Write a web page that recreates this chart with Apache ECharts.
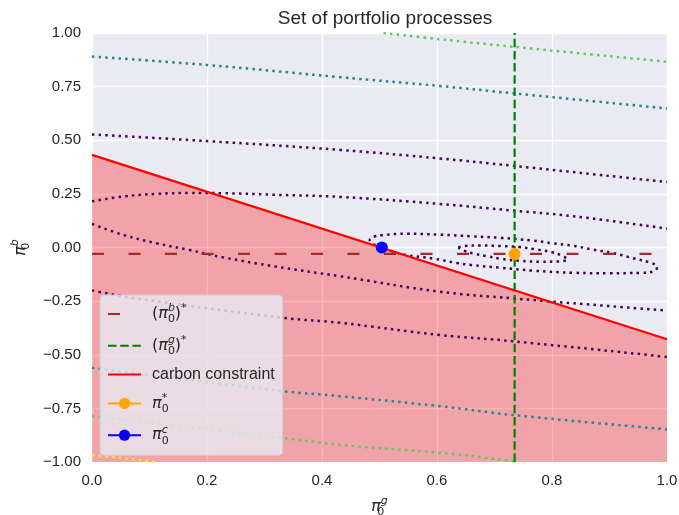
<!DOCTYPE html>
<html>
<head>
<meta charset="utf-8">
<title>Set of portfolio processes</title>
<script src="https://cdn.jsdelivr.net/npm/echarts@6/dist/echarts.min.js"></script>
<style>
    html, body { margin: 0; padding: 0; background: #fff; }
    #chart { width: 679px; height: 515px; }
</style>
</head>
<body>
<div id="chart"></div>
<script>
    // tick labels of both axes
    const xTicks = [0.0, 0.2, 0.4, 0.6, 0.8, 1.0];
    const yTicks = [-1.0, -0.75, -0.5, -0.25, 0.0, 0.25, 0.5, 0.75, 1.0];

    // optimal values and the carbon constraint
    const pibStar = -0.03;
    const pigStar = 0.735;
    const optimalPoint = [0.735, -0.03];
    const constrainedPoint = [0.504, 0.0];
    const constraintLine = [[0, 0.432], [1, -0.428]];

    // level curves of the objective
    const contourA = [[0.637, 0.0], [0.648, 0.007], [0.675, 0.009], [0.71, 0.007], [0.744, 0.002], [0.77, -0.008],
        [0.80, -0.022], [0.815, -0.036], [0.827, -0.055], [0.812, -0.065], [0.78, -0.066], [0.744, -0.062],
        [0.71, -0.052], [0.686, -0.04], [0.663, -0.028], [0.646, -0.014], [0.637, 0.0]];
    const contourB = [[0.504, 0.0], [0.49, 0.015], [0.483, 0.035], [0.49, 0.05], [0.506, 0.058], [0.547, 0.064],
        [0.605, 0.06], [0.66, 0.052], [0.71, 0.045], [0.767, 0.032], [0.80, 0.02], [0.837, 0.008], [0.871, -0.01],
        [0.906, -0.026], [0.941, -0.05], [0.97, -0.07], [0.983, -0.09], [0.978, -0.11], [0.955, -0.118],
        [0.9, -0.12], [0.84, -0.118], [0.767, -0.108], [0.71, -0.094], [0.66, -0.082], [0.634, -0.072],
        [0.594, -0.052], [0.547, -0.035], [0.522, -0.018], [0.504, 0.0]];
    const contourCUpper = [[0, 0.215], [0.055, 0.238], [0.112, 0.25], [0.17, 0.254], [0.228, 0.253], [0.315, 0.246],
        [0.431, 0.236], [0.605, 0.203], [0.732, 0.172], [0.837, 0.146], [1.0, 0.088]];
    const contourCLower = [[0, 0.11], [0.055, 0.058], [0.112, 0.02], [0.17, -0.012], [0.228, -0.046], [0.315, -0.087],
        [0.431, -0.134], [0.605, -0.206], [0.732, -0.237], [0.837, -0.26], [1.0, -0.294]];
    const contourDUpper = [[0, 0.527], [0.2, 0.496], [0.431, 0.455], [0.605, 0.415], [0.732, 0.381], [1.0, 0.305]];
    const contourDLower = [[0, -0.2], [0.071, -0.235], [0.333, -0.328], [0.431, -0.351], [0.605, -0.408],
        [0.732, -0.437], [1.0, -0.51]];
    const contourEUpper = [[0, 0.89], [0.2, 0.851], [0.431, 0.794], [0.605, 0.753], [0.732, 0.719], [1.0, 0.648]];
    const contourELower = [[0, -0.561], [0.333, -0.67], [0.431, -0.693], [0.605, -0.74], [0.732, -0.781],
        [1.0, -0.848]];
    const contourFUpper = [[0.507, 1.0], [0.605, 0.971], [0.732, 0.936], [1.0, 0.866]];
    const contourFLower = [[0, -0.786], [0.333, -0.888], [0.431, -0.92], [0.605, -0.957], [0.715, -0.99],
        [0.74, -1.0]];
    const contourG = [[0, -0.968], [0.02, -0.973], [0.086, -0.992], [0.11, -1.0]];

    const mathRich = {
        m: { fontFamily: 'DejaVu Sans', fontStyle: 'italic', fontSize: 16, lineHeight: 22, color: '#262626' },
        n: { fontFamily: 'DejaVu Sans', fontSize: 16, lineHeight: 22, color: '#262626' },
        sb: { fontFamily: 'DejaVu Sans', fontSize: 11, lineHeight: 12, verticalAlign: 'bottom', width: 0, color: '#262626' },
        sp: { fontFamily: 'DejaVu Sans', fontStyle: 'italic', fontSize: 11, lineHeight: 12, verticalAlign: 'top', color: '#262626' },
        t: { fontFamily: 'Liberation Sans', fontSize: 16, lineHeight: 22, color: '#262626' }
    };

    const legendLabels = {
        'pib': '{n|(}{m|π}{sb|0}{sp|b}{n|)}{sp|*}',
        'pig': '{n|(}{m|π}{sb|0}{sp|g}{n|)}{sp|*}',
        'carbon constraint': '{t|carbon constraint}',
        'pistar': '{m|π}{sb|0}{sp|*}',
        'pic': '{m|π}{sb|0}{sp|c}'
    };

    // plain lines get no marker in the legend
    const lineOnly = { itemStyle: { opacity: 0 } };

    function contour(data, color) {
        return {
            type: 'line',
            data: data,
            smooth: 0.4,
            symbol: 'none',
            silent: true,
            clip: true,
            z: 3,
            lineStyle: { color: color, width: 2.5, type: [2.5, 4.2] }
        };
    }

    function fmtY(v) {
        const s = Math.abs(v).toFixed(2);
        return v < 0 ? '\u2212' + s : s;
    }

    const chart = echarts.init(document.getElementById('chart'));
    const option = {
        backgroundColor: '#ffffff',
        animation: false,
        title: {
            text: 'Set of portfolio processes',
            left: 380,
            textAlign: 'center',
            top: 4,
            textStyle: { fontFamily: 'Liberation Sans', fontSize: 19, fontWeight: 'normal', color: '#262626' }
        },
        grid: {
            left: 92, right: 12, top: 33, bottom: 53,
            outerBoundsMode: 'none',
            containLabel: false,
            show: true, backgroundColor: '#eaeaf2', borderWidth: 0
        },
        legend: {
            data: [
                Object.assign({ name: 'pib' }, lineOnly),
                Object.assign({ name: 'pig' }, lineOnly),
                Object.assign({ name: 'carbon constraint' }, lineOnly),
                { name: 'pistar' },
                { name: 'pic' }
            ],
            orient: 'vertical',
            left: 100,
            top: 295,
            itemWidth: 33,
            itemHeight: 14,
            itemGap: 9.8,
            padding: [8, 8, 9, 7],
            backgroundColor: 'rgba(234,234,242,0.8)',
            borderColor: '#cccccc',
            borderWidth: 1,
            borderRadius: 4,
            formatter: name => legendLabels[name],
            textStyle: { padding: [0, 0, 0, 6], rich: mathRich },
            selectedMode: false
        },
        xAxis: {
            type: 'value',
            min: xTicks[0],
            max: xTicks[xTicks.length - 1],
            interval: 0.2,
            name: '{m|π}{sb|0}{sp|g}',
            nameLocation: 'middle',
            nameGap: 34,
            nameTextStyle: { rich: mathRich },
            axisLine: { show: false },
            axisTick: { show: false },
            axisLabel: { margin: 11, fontFamily: 'Liberation Sans', fontSize: 15, color: '#262626', formatter: v => v.toFixed(1) },
            splitLine: { lineStyle: { color: '#ffffff', width: 1.3 } }
        },
        yAxis: {
            type: 'value',
            min: yTicks[0],
            max: yTicks[yTicks.length - 1],
            interval: 0.25,
            name: '{m|π}{sb|0}{sp|b}',
            nameLocation: 'middle',
            nameGap: 60,
            nameTextStyle: { rich: mathRich },
            axisLine: { show: false },
            axisTick: { show: false },
            axisLabel: { margin: 11, fontFamily: 'Liberation Sans', fontSize: 15, color: '#262626', formatter: fmtY },
            splitLine: { lineStyle: { color: '#ffffff', width: 1.3 } }
        },
        series: [
            {
                type: 'line',
                data: constraintLine,
                symbol: 'none',
                silent: true,
                z: 1,
                lineStyle: { width: 0 },
                areaStyle: { color: 'rgba(255,0,0,0.3)', opacity: 1, origin: 'start' }
            },
            contour(contourA, '#440154'),
            contour(contourB, '#440154'),
            contour(contourCUpper, '#450559'),
            contour(contourCLower, '#450559'),
            contour(contourDUpper, '#46085c'),
            contour(contourDLower, '#46085c'),
            contour(contourEUpper, '#24868e'),
            contour(contourELower, '#24868e'),
            contour(contourFUpper, '#5ec962'),
            contour(contourFLower, '#5ec962'),
            contour(contourG, '#fde725'),
            {
                name: 'pib',
                type: 'line',
                data: [[xTicks[0], pibStar], [xTicks[xTicks.length - 1], pibStar]],
                symbol: 'none',
                z: 4,
                color: '#a52a2a',
                lineStyle: { color: '#a52a2a', width: 2.2, type: [12, 24.5] }
            },
            {
                name: 'pig',
                type: 'line',
                data: [[pigStar, yTicks[0]], [pigStar, yTicks[yTicks.length - 1]]],
                symbol: 'none',
                z: 4,
                color: '#008000',
                lineStyle: { color: '#008000', width: 2.2, type: [8.5, 3.7] }
            },
            {
                name: 'carbon constraint',
                type: 'line',
                data: constraintLine,
                symbol: 'none',
                z: 5,
                color: '#ff0000',
                lineStyle: { color: '#ff0000', width: 2.2 }
            },
            {
                name: 'pistar',
                type: 'line',
                data: [optimalPoint],
                symbol: 'circle',
                symbolSize: 12,
                z: 6,
                color: '#ffa500',
                itemStyle: { color: '#ffa500' },
                lineStyle: { color: '#ffa500', width: 2.2 }
            },
            {
                name: 'pic',
                type: 'line',
                data: [constrainedPoint],
                symbol: 'circle',
                symbolSize: 12,
                z: 6,
                color: '#0000ff',
                itemStyle: { color: '#0000ff' },
                lineStyle: { color: '#0000ff', width: 2.2 }
            }
        ]
    };

    chart.setOption(option);
</script>
</body>
</html>
